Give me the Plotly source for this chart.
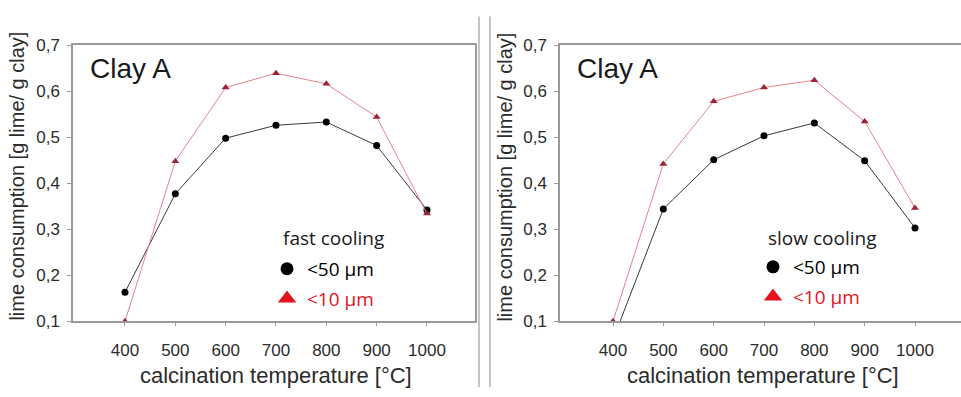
import plotly.graph_objects as go

# Calcination temperatures [°C]
temperature = [400, 500, 600, 700, 800, 900, 1000]

# Lime consumption [g lime / g clay], Clay A
fast_50um = [0.163, 0.377, 0.498, 0.526, 0.533, 0.482, 0.342]
fast_10um = [0.100, 0.448, 0.608, 0.639, 0.616, 0.544, 0.334]
slow_50um = [0.060, 0.344, 0.451, 0.503, 0.531, 0.449, 0.303]
slow_10um = [0.100, 0.442, 0.578, 0.608, 0.624, 0.534, 0.346]

x_ticks = [400, 500, 600, 700, 800, 900, 1000]
x_ticktext = ["400", "500", "600", "700", "800", "900", "1000"]
y_ticks = [0.1, 0.2, 0.3, 0.4, 0.5, 0.6, 0.7]
y_ticktext = ["0,1", "0,2", "0,3", "0,4", "0,5", "0,6", "0,7"]

W, H = 961, 397


def px(x):
    return x / W


def py(y):
    return 1 - y / H


AXIS_GREY = "#9a9a9a"
TEXT = "#2b2b2b"
BLACK_LINE = "#3a3a3a"
RED_LINE = "#e8808c"
RED_MARK = "#9c2436"
LEGEND_RED = "#e5141c"
LEGEND_FONT = "Open Sans, sans-serif"

fig = go.Figure()

panels = [
    ("x", "y", fast_50um, fast_10um, "legend", True),
    ("x2", "y2", slow_50um, slow_10um, "legend2", False),
]

for xa, ya, s50, s10, leg, clip_free in panels:
    fig.add_trace(go.Scatter(
        x=temperature, y=s50, xaxis=xa, yaxis=ya, mode="lines+markers",
        line=dict(color=BLACK_LINE, width=1),
        marker=dict(symbol="circle", size=7, color="black"),
        cliponaxis=not clip_free, showlegend=False,
    ))
    fig.add_trace(go.Scatter(
        x=temperature, y=s10, xaxis=xa, yaxis=ya, mode="lines+markers",
        line=dict(color=RED_LINE, width=1),
        marker=dict(symbol="triangle-up", size=7, color=RED_MARK),
        cliponaxis=False, showlegend=False,
    ))
    # legend entries
    fig.add_trace(go.Scatter(
        x=[None], y=[None], xaxis=xa, yaxis=ya, mode="markers",
        marker=dict(symbol="circle", size=13, color="black"),
        name="&lt;50 µm", legend=leg, legendgroup=leg + "a",
    ))
    fig.add_trace(go.Scatter(
        x=[None], y=[None], xaxis=xa, yaxis=ya, mode="markers",
        marker=dict(symbol="triangle-up", size=16, color=LEGEND_RED),
        name=f'<span style="color:{LEGEND_RED}">&lt;10 µm</span>',
        legend=leg, legendgroup=leg + "b",
    ))

tick_font = dict(family="Liberation Sans, Arial, sans-serif", size=17, color=TEXT)

common_x = dict(
    tickmode="array", tickvals=x_ticks, ticktext=x_ticktext,
    showline=True, linecolor=AXIS_GREY, linewidth=1.5,
    ticks="outside", ticklen=3, tickcolor=AXIS_GREY,
    showgrid=False, zeroline=False, tickfont=tick_font,
    ticklabelstandoff=10,
)
common_y = dict(
    tickmode="array", tickvals=y_ticks, ticktext=y_ticktext,
    range=[0.1, 0.7],
    showline=True, linecolor=AXIS_GREY, linewidth=1.5,
    ticks="outside", ticklen=4, tickcolor=AXIS_GREY,
    showgrid=False, zeroline=False, tickfont=tick_font,
    ticklabelstandoff=4,
)

legend_style = dict(xanchor="left", yanchor="top", bgcolor="rgba(0,0,0,0)",
                    tracegroupgap=2,
                    font=dict(family=LEGEND_FONT, size=19, color="black"))

fig.update_layout(
    width=W, height=H,
    margin=dict(l=0, r=0, t=0, b=0),
    paper_bgcolor="white", plot_bgcolor="white",
    xaxis=dict(common_x, domain=[px(73), px(475)], range=[296.7, 1095.4],
               anchor="y", mirror=True),
    yaxis=dict(common_y, domain=[py(328), py(38)], anchor="x", mirror=True),
    xaxis2=dict(common_x, domain=[px(560), 1.0], range=[294.7, 1091.4],
                anchor="y2", mirror=True),
    yaxis2=dict(common_y, domain=[py(328), py(38)], anchor="x2"),
    legend=dict(legend_style, x=px(267), y=py(253)),
    legend2=dict(legend_style, x=px(753), y=py(251)),
    showlegend=True,
)

title_font = dict(family="Liberation Sans, Arial, sans-serif", color=TEXT)
annotations = [
    dict(text="Clay A", x=px(88), y=py(63), xanchor="left", yanchor="middle",
         font=dict(title_font, size=28, color="#1a1a1a")),
    dict(text="Clay A", x=px(575), y=py(63), xanchor="left", yanchor="middle",
         font=dict(title_font, size=28, color="#1a1a1a")),
    dict(text="fast cooling", x=px(281), y=py(240), xanchor="left", yanchor="middle",
         font=dict(family=LEGEND_FONT, size=19, color="#1a1a1a")),
    dict(text="slow cooling", x=px(766), y=py(240), xanchor="left", yanchor="middle",
         font=dict(family=LEGEND_FONT, size=19, color="#1a1a1a")),
    dict(text="lime consumption [g lime/ g clay]", x=px(17), y=py(176),
         textangle=-90, xanchor="center", yanchor="middle",
         font=dict(title_font, size=20)),
    dict(text="lime consumption [g lime/ g clay]", x=px(505), y=py(176),
         textangle=-90, xanchor="center", yanchor="middle",
         font=dict(title_font, size=20)),
    dict(text="calcination temperature [°C]", x=px(276), y=py(385),
         xanchor="center", yanchor="middle", font=dict(title_font, size=22)),
    dict(text="calcination temperature [°C]", x=px(763), y=py(385),
         xanchor="center", yanchor="middle", font=dict(title_font, size=22)),
]
for a in annotations:
    a.update(xref="paper", yref="paper", showarrow=False)
fig.update_layout(annotations=annotations)

# panel separator
for xs in (479, 490):
    fig.add_shape(type="line", xref="paper", yref="paper",
                  x0=px(xs), x1=px(xs), y0=py(8), y1=0,
                  line=dict(color="#b0b0b0", width=1.5))

fig.write_html("out.html")
